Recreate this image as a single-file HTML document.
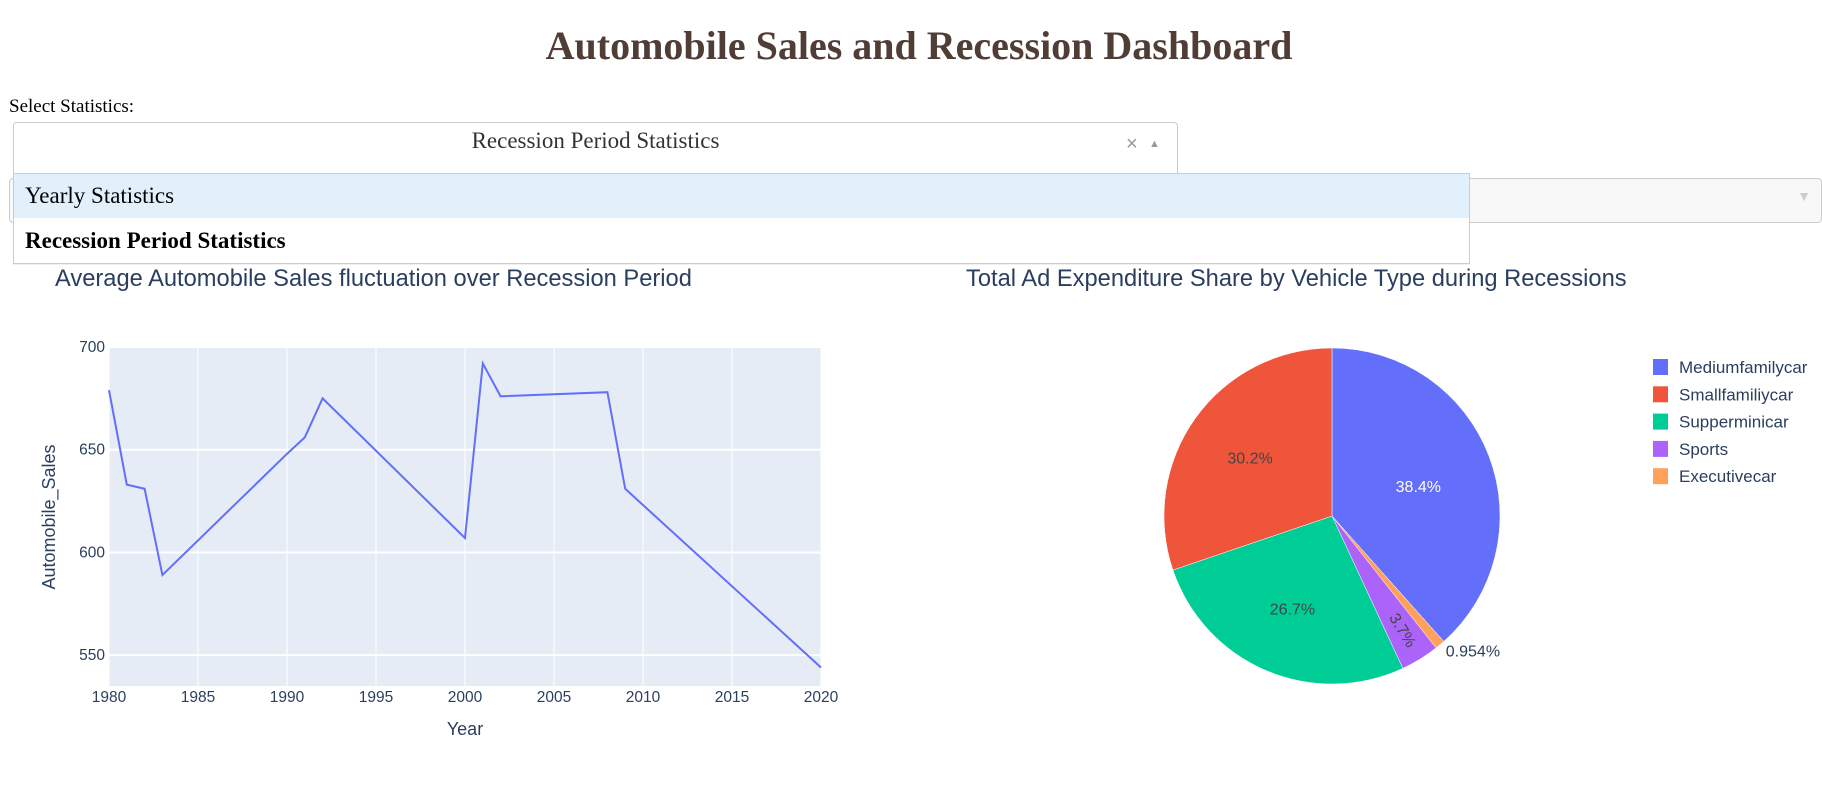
<!DOCTYPE html>
<html><head><meta charset="utf-8">
<style>
body{margin:0;width:1822px;height:798px;background:#fff;position:relative;overflow:hidden;font-family:"Liberation Serif",serif}
.abs{position:absolute}
</style></head><body>
<div class="abs" style="left:0;width:1838px;top:26px;line-height:40px;text-align:center;font-size:40px;font-weight:bold;color:#503D36">Automobile Sales and Recession Dashboard</div>
<div class="abs" style="left:9px;top:96px;font-size:19px">Select Statistics:</div>
<div class="abs" style="left:9px;top:178px;width:1811px;height:43px;background:#f8f8f8;border:1px solid #ccc;border-radius:4px"><span class="abs" style="right:10px;top:11px;color:#ccc;font-size:14px">▼</span></div>
<div class="abs" style="left:13px;top:122px;width:1163px;height:52px;background:#fff;border:1px solid #ccc;border-radius:4px 4px 0 0">
<div class="abs" style="left:0;width:1163px;top:5px;text-align:center;font-size:23px;color:#333">Recession Period Statistics</div>
<span class="abs" style="left:1112px;top:10px;font-size:20px;color:#999;font-family:'Liberation Sans',sans-serif">×</span>
<span class="abs" style="left:1135px;top:15px;font-size:11px;color:#999">▲</span>
</div>
<div class="abs" style="left:13px;top:173px;width:1455px;height:89px;background:#fff;border:1px solid #ccc;box-shadow:0 1px 0 rgba(0,0,0,.06)">
<div class="abs" style="left:0;top:0;width:1455px;height:44px;background:#e2f0fc;font-size:23px;line-height:44px;text-indent:11px">Yearly Statistics</div>
<div class="abs" style="left:0;top:44px;width:1455px;height:45px;font-size:23px;font-weight:bold;line-height:45px;text-indent:11px">Recession Period Statistics</div>
</div>
<svg class="abs" style="left:0;top:0" width="1822" height="798" font-family="Liberation Sans, sans-serif">
<text x="55" y="286" font-size="23.7" fill="#2a3f5f">Average Automobile Sales fluctuation over Recession Period</text>
<text x="966" y="286" font-size="23.7" fill="#2a3f5f">Total Ad Expenditure Share by Vehicle Type during Recessions</text>
<g id="line"></g><g id="pie"></g>
</svg>
<script>
const years=[1980,1981,1982,1983,1990,1991,1992,2000,2001,2002,2008,2009,2020];
const sales=[679,633,631,589,648,656,675,607,692,676,678,631,544];
const xTicks=[1980,1985,1990,1995,2000,2005,2010,2015,2020];
const yTicks=[550,600,650,700];
const pieLabels=["Mediumfamilycar","Smallfamiliycar","Supperminicar","Sports","Executivecar"];
const pieValues=[38.4,30.2,26.7,3.7,0.954];
const pieText=["38.4%","30.2%","26.7%","3.7%","0.954%"];
const sliceOrder=[0,4,3,2,1];
const colors=["#636efa","#EF553B","#00cc96","#ab63fa","#FFA15A"];
const NS="http://www.w3.org/2000/svg";
function mk(p,t,a){const e=document.createElementNS(NS,t);for(const k in a)e.setAttribute(k,a[k]);p.appendChild(e);return e;}
const L=109,R=821,T=347,B=686,y0=535,y1=700;
const X=v=>L+(v-1980)/(2020-1980)*(R-L);
const Y=v=>B-(v-y0)/(y1-y0)*(B-T);
const g=document.getElementById('line');
let bg=mk(g,'rect',{x:L,y:T,width:R-L,height:B-T,fill:'#e5ecf6'});


xTicks.forEach(t=>{
 let l=mk(g,'line',{x1:X(t),x2:X(t),y1:T,y2:B,stroke:'#fff','stroke-width':1});
 
 
 let tx=mk(g,'text',{x:X(t),y:B+16,'text-anchor':'middle','font-size':15.5,fill:'#2a3f5f'});tx.textContent=t;
 
 
});
yTicks.forEach(t=>{
 let l=mk(g,'line',{x1:L,x2:R,y1:Y(t),y2:Y(t),stroke:'#fff','stroke-width':2});
 
 
 let tx=mk(g,'text',{x:L-4,y:Y(t)+5,'text-anchor':'end','font-size':15.5,fill:'#2a3f5f'});tx.textContent=t;
 
 
});
let pl=mk(g,'polyline',{points:years.map((y,i)=>X(y)+','+Y(sales[i])).join(' '),fill:'none',stroke:'#636efa','stroke-width':2});


let xt=mk(g,'text',{x:(L+R)/2,y:735,'text-anchor':'middle','font-size':18,fill:'#2a3f5f'});xt.textContent='Year';


let yt=mk(g,'text',{x:0,y:0,'text-anchor':'middle','font-size':18,fill:'#2a3f5f',transform:'translate(55,517) rotate(-90)'});yt.textContent='Automobile_Sales';


// pie
const pg=document.getElementById('pie');
const cx=1332,cy=516,r=168;
const tot=pieValues.reduce((a,b)=>a+b,0);
let a=0;
sliceOrder.forEach(i=>{
 const v=pieValues[i];
 const a0=a,a1=a+v/tot*2*Math.PI;a=a1;
 const p=t=>[cx+r*Math.sin(t),cy-r*Math.cos(t)];
 const [x0,yy0]=p(a0),[x1,yy1]=p(a1);
 let s=mk(pg,'path',{d:`M${cx},${cy}L${x0},${yy0}A${r},${r} 0 ${a1-a0>Math.PI?1:0} 1 ${x1},${yy1}Z`,fill:colors[i],stroke:'#fff','stroke-width':0.5});
 
 
 const m=(a0+a1)/2;
 let t;
 if(i===4){t=mk(pg,'text',{x:cx+(r+6)*Math.sin(m)+2,y:cy-(r+6)*Math.cos(m)+7,'font-size':16,fill:'#2a3f5f'});}
 else if(i===3){const tx=cx+0.8*r*Math.sin(m),ty=cy-0.8*r*Math.cos(m);t=mk(pg,'text',{x:tx,y:ty+5,'text-anchor':'middle','font-size':16,fill:'#444',transform:`rotate(${m*180/Math.PI-90} ${tx} ${ty})`});}
 else{const f=i===0?0.55:0.6;t=mk(pg,'text',{x:cx+f*r*Math.sin(m),y:cy-f*r*Math.cos(m)+(i===0?9:6),'text-anchor':'middle','font-size':16,fill:i===0?'#fff':'#444'});}
 t.textContent=pieText[i];
 
 
});
pieLabels.forEach((lab,i)=>{
 let sw=mk(pg,'rect',{x:1653,y:359+i*27.3,width:15,height:16,fill:colors[i]});
 
 
 let lt=mk(pg,'text',{x:1679,y:373+i*27.3,'font-size':17,fill:'#2a3f5f'});lt.textContent=lab;
 
 
});
</script>
</body></html>
